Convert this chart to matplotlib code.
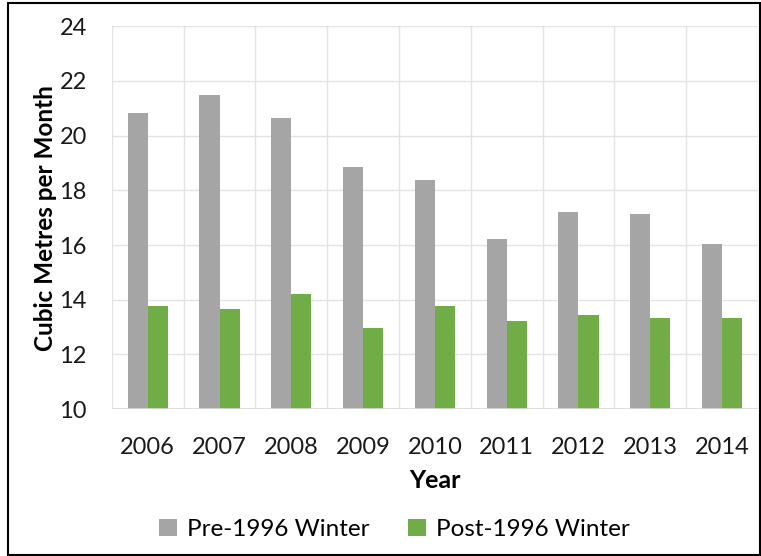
import numpy as np
import matplotlib.pyplot as plt
from matplotlib.patches import Rectangle

years = ['2006', '2007', '2008', '2009', '2010', '2011', '2012', '2013', '2014']
pre_1996 = [20.84, 21.50, 20.66, 18.85, 18.38, 16.22, 17.22, 17.13, 16.04]
post_1996 = [13.79, 13.65, 14.21, 12.97, 13.77, 13.22, 13.44, 13.35, 13.35]
y_ticks = [10, 12, 14, 16, 18, 20, 22, 24]

plt.rcParams['font.family'] = ['Lato', 'DejaVu Sans']

fig = plt.figure(figsize=(7.61, 5.56), dpi=100)
ax = fig.add_axes([0.147, 0.264, 0.849, 0.689])

x = np.arange(len(years))
w = 0.28
ax.bar(x - w / 2, pre_1996, w, bottom=0, color='#a5a5a5', label='Pre-1996 Winter', zorder=3)
ax.bar(x + w / 2, post_1996, w, bottom=0, color='#70ad47', label='Post-1996 Winter', zorder=3)

ax.set_ylim(10, 24)
ax.set_xlim(-0.5, len(years) - 0.5)
ax.set_yticks(y_ticks)
ax.set_xticks(x)
ax.set_xticklabels(years)
ax.set_xticks(np.arange(-0.5, len(years)), minor=True)

for s in ax.spines.values():
    s.set_visible(False)
ax.grid(axis='y', which='major', color='#e3e3e3', linewidth=1, zorder=0)
ax.grid(axis='x', which='minor', color='#e3e3e3', linewidth=1, zorder=0)
ax.axhline(10, color='#d9d9d9', linewidth=1.2, zorder=4)
ax.tick_params(axis='both', which='both', length=0, labelsize=17, colors='#1a1a1a')
ax.tick_params(axis='x', pad=20)
ax.tick_params(axis='y', pad=18)

ax.set_xlabel('Year', fontsize=18, fontweight='bold', labelpad=8)
ax.set_ylabel('Cubic Metres per Month', fontsize=17.5, fontweight='bold', labelpad=2)

fig.legend(loc='center', bbox_to_anchor=(0.518, 0.048), ncol=2, frameon=False,
           fontsize=17.5, handlelength=0.75, handleheight=0.75, columnspacing=1.6,
           handletextpad=0.4)

fig.patches.append(Rectangle((8 / 761, 1 / 556), 752 / 761, 552 / 556,
                             transform=fig.transFigure, fill=False,
                             edgecolor='black', linewidth=1.5))

fig.savefig('out.png', dpi=100)
